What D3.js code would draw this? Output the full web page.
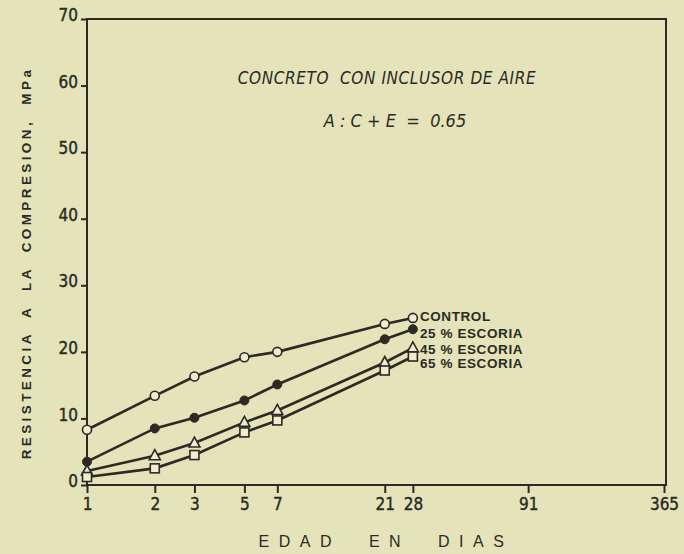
<!DOCTYPE html>
<html><head><meta charset="utf-8">
<script src="https://cdn.jsdelivr.net/npm/d3@7"></script>
<style>
html,body{margin:0;padding:0;background:#e4e3ba;}
svg{display:block;}
text{font-family:"Liberation Sans","DejaVu Sans",sans-serif;fill:#2b2b24;}
</style></head><body>
<svg id="c" width="684" height="554"></svg>
<script>
const days = [1, 2, 3, 5, 7, 21, 28];
const xTicks = [1, 2, 3, 5, 7, 21, 28, 91, 365];
const yTicks = [0, 10, 20, 30, 40, 50, 60, 70];
const control = [8.3, 13.4, 16.3, 19.2, 20.0, 24.2, 25.1];
const escoria25 = [3.5, 8.5, 10.1, 12.7, 15.1, 21.9, 23.4];
const escoria45 = [2.1, 4.4, 6.3, 9.4, 11.2, 18.4, 20.6];
const escoria65 = [1.2, 2.5, 4.5, 7.9, 9.7, 17.2, 19.3];
const seriesNames = ["CONTROL", "25 % ESCORIA", "45 % ESCORIA", "65 % ESCORIA"];
const markers = ["openCircle", "filledCircle", "triangle", "square"];

const ink = "#2b2b24";
const svg = d3.select("#c");
const L = 87, R = 666, T = 19, B = 485;
const x = d3.scaleLog().domain([1, 365]).range([L, 664]);
const y = d3.scaleLinear().domain([0, 70]).range([B, T]);

svg.append("rect").attr("width",684).attr("height",554).attr("fill","#e4e3ba");

// frame
svg.append("rect").attr("x",L).attr("y",T).attr("width",R-L).attr("height",B-T)
  .attr("fill","none").attr("stroke",ink).attr("stroke-width",2);

const xAxis = svg.append("g").attr("transform",`translate(0,${B})`)
  .call(d3.axisBottom(x).tickValues(xTicks).tickFormat(d=>d).tickSize(8).tickPadding(5));
const yAxis = svg.append("g").attr("transform",`translate(${L},0)`)
  .call(d3.axisLeft(y).tickValues(yTicks).tickSize(6).tickPadding(3));
[xAxis,yAxis].forEach(g=>{
  g.select(".domain").remove();
  g.selectAll(".tick line").attr("stroke",ink).attr("stroke-width",2);
  g.selectAll(".tick text").attr("fill",ink).style("font-size","17px")
    .style("stroke",ink).style("stroke-width","0.4px")
    .style("font-family","'DejaVu Sans Condensed','Liberation Sans',sans-serif");
});
yAxis.selectAll(".tick text").attr("dy","0.1em");

const allSeries = [control, escoria25, escoria45, escoria65];
const line = d3.line().x((v,i)=>x(days[i])).y(v=>y(v));
allSeries.forEach((s,k)=>{
  svg.append("path").attr("d",line(s)).attr("fill","none").attr("stroke",ink).attr("stroke-width",2.6);
});
allSeries.forEach((s,k)=>{
  const g = svg.append("g");
  s.forEach((v,i)=>{
    const cx = x(days[i]), cy = y(v);
    const m = markers[k];
    if (m==="openCircle") g.append("circle").attr("cx",cx).attr("cy",cy).attr("r",4.5).attr("fill","#eeedd0").attr("stroke",ink).attr("stroke-width",1.6);
    else if (m==="filledCircle") g.append("circle").attr("cx",cx).attr("cy",cy).attr("r",4.5).attr("fill",ink).attr("stroke",ink).attr("stroke-width",1);
    else if (m==="triangle") g.append("path").attr("d",`M${cx},${cy-6}L${cx+5.5},${cy+4}L${cx-5.5},${cy+4}Z`).attr("fill","#eeedd0").attr("stroke",ink).attr("stroke-width",1.6);
    else g.append("rect").attr("x",cx-4.5).attr("y",cy-4.5).attr("width",9).attr("height",9).attr("fill","#eeedd0").attr("stroke",ink).attr("stroke-width",1.6);
  });
});

// series labels (stacked beside the 28-day end points)
const labelDy = [3, 9, 6, 11];
seriesNames.forEach((n,k)=>{
  svg.append("text").attr("x",x(28)+7).attr("y",y(allSeries[k][6])+labelDy[k]).text(n)
    .style("font-size","13.5px").style("font-weight","bold").style("letter-spacing","0.6px");
});

// titles
svg.append("text").attr("x",387).attr("y",84).attr("text-anchor","middle")
  .style("font-size","17px").style("font-style","italic").style("letter-spacing","0.6px")
  .style("font-family","'DejaVu Sans Condensed','Liberation Sans',sans-serif").attr("xml:space","preserve")
  .text("CONCRETO  CON INCLUSOR DE AIRE");
svg.append("text").attr("x",395).attr("y",127).attr("text-anchor","middle")
  .style("font-size","18px").style("font-style","italic").attr("xml:space","preserve")
  .style("font-family","'DejaVu Sans Condensed','Liberation Sans',sans-serif")
  .text("A : C + E  =  0.65");

// axis titles
svg.append("text").attr("x",386).attr("y",547).attr("text-anchor","middle")
  .style("font-size","16px").style("letter-spacing","9.5px").attr("xml:space","preserve")
  .text("EDAD  EN  DIAS");
svg.append("text").attr("transform","translate(31,263) rotate(-90)").attr("text-anchor","middle")
  .style("font-size","13.5px").style("font-weight","bold").style("letter-spacing","3.4px").attr("xml:space","preserve")
  .text("RESISTENCIA  A  LA  COMPRESION,  MPa");
</script>
</body></html>
